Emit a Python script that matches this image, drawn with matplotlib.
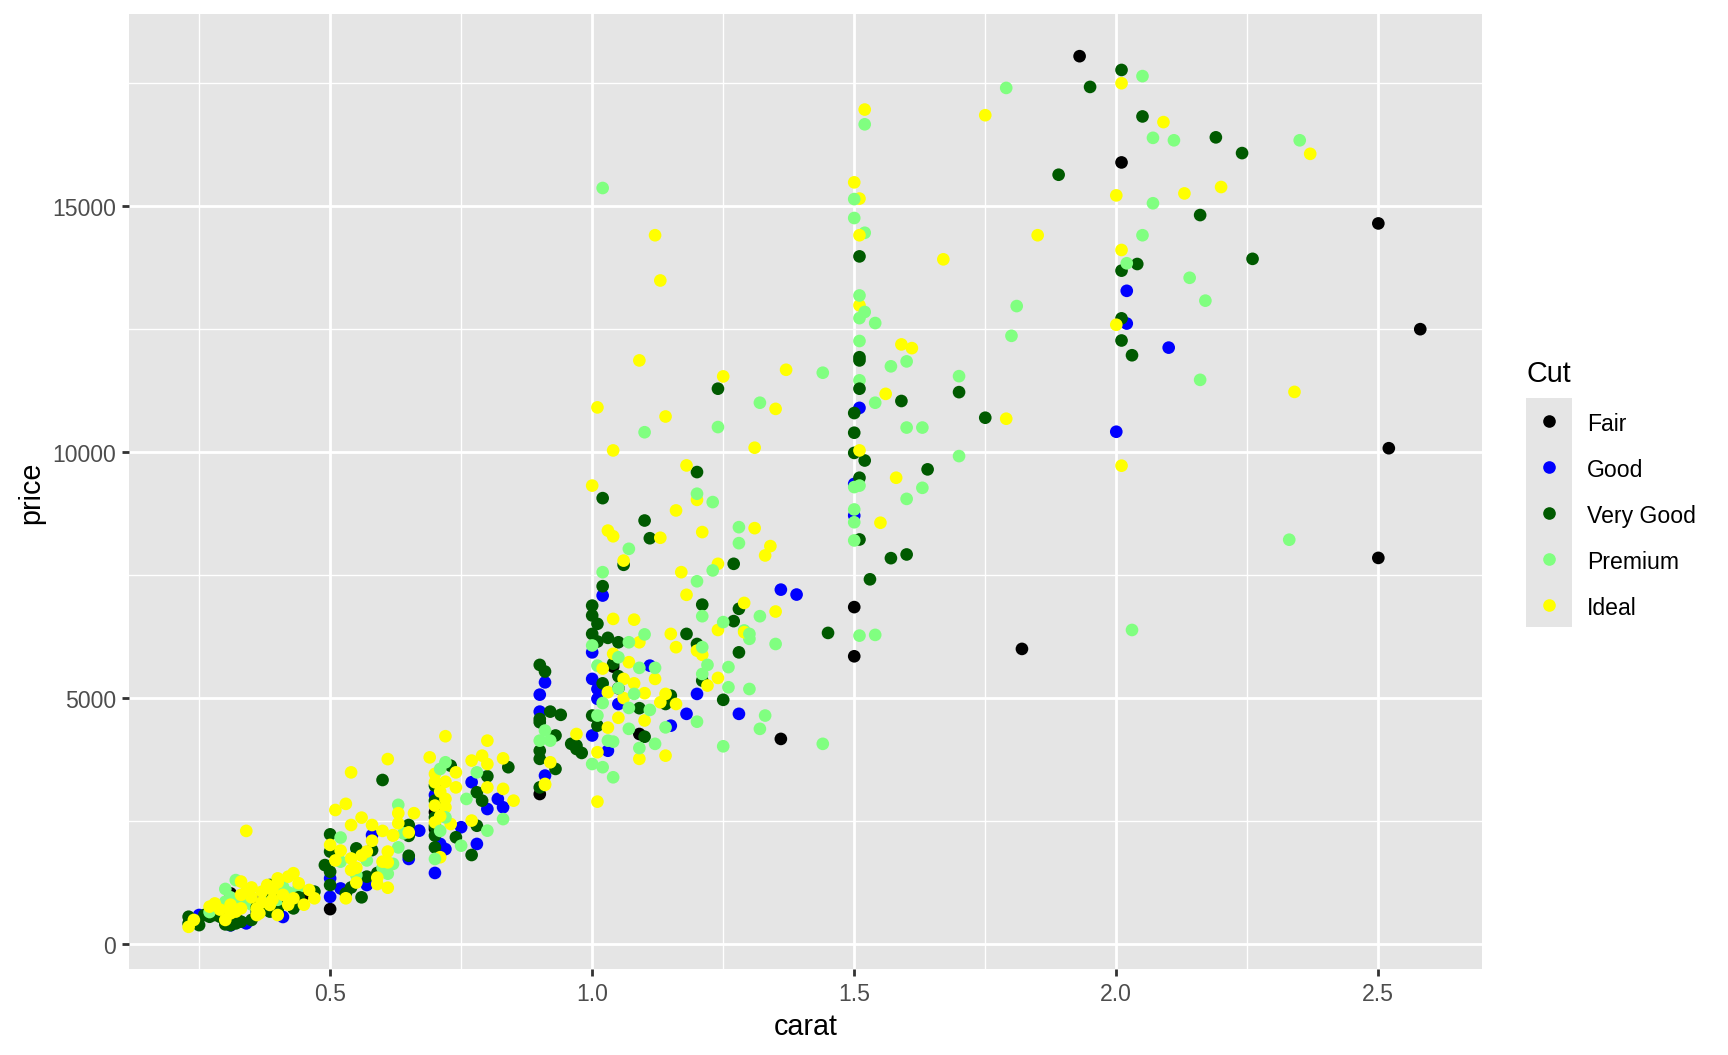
import numpy as np
import pandas as pd
import matplotlib
matplotlib.use("Agg")
import matplotlib.pyplot as plt
from matplotlib.lines import Line2D
from matplotlib.patches import Rectangle

plt.rcParams['font.family'] = ['Liberation Sans', 'DejaVu Sans']

# values (diamonds sample, carat vs price by cut)
cuts = ["Fair", "Good", "Very Good", "Premium", "Ideal"]
cut_colors = ["#000000", "#0000FF", "#005A00", "#80FF80", "#FFFF00"]

fair_carat = [1.93, 2.01, 2.50, 2.58, 2.52, 2.50, 1.82, 1.50, 1.50, 1.36, 1.04, 1.05, 1.09,
              0.90, 0.50, 0.31, 0.45, 0.70, 0.70]
fair_price = [18050, 15890, 14650, 12500, 10080, 7850, 6000, 6850, 5850, 4170, 5640, 5200, 4270,
              3050, 710, 1030, 1000, 2680, 2340]

good_carat = [2.02, 2.02, 2.10, 2.00, 1.51, 1.36, 1.39, 1.02, 1.28, 1.20, 1.18, 1.15, 1.11, 1.05,
              1.00, 1.00, 1.01, 1.01, 1.00, 1.03, 0.91, 0.90, 0.90, 0.91, 1.50, 1.50, 0.77, 0.82,
              0.80, 0.83, 0.78, 0.70, 0.75, 0.71, 0.72, 0.70, 0.67, 0.65, 0.58, 0.57, 0.50, 0.50,
              0.52, 0.37, 0.34, 0.25, 0.43, 0.41, 0.31]
good_price = [13280, 12615, 12125, 10415, 10900, 7205, 7105, 7085, 4680, 5085, 4680, 4440, 5660, 4880,
              5930, 5390, 5185, 4985, 4240, 3930, 5320, 5070, 4725, 3425, 9355, 8710, 3290, 2950,
              2745, 2780, 2035, 3030, 2375, 2035, 1930, 1445, 2305, 1730, 2215, 1200, 1335, 960,
              1130, 930, 420, 590, 975, 550, 380]

vgood_carat = [2.01, 1.95, 2.05, 2.19, 2.24, 1.89, 2.16, 2.04, 2.01, 2.26, 2.01, 2.01, 2.03, 1.75,
               1.70, 1.59, 1.64, 1.60, 1.57, 1.53, 1.51, 1.52, 1.51, 1.51, 1.51, 1.51, 1.50, 1.50,
               1.50, 1.51, 1.45,
               1.24, 1.02, 1.20, 1.10, 1.11, 1.06, 1.27, 1.02, 1.21, 1.28, 1.27, 1.18, 1.03, 1.05,
               1.20, 1.28, 1.21, 1.25, 1.00, 1.00, 1.01, 1.00, 1.02, 1.00, 1.01, 1.05, 1.09, 1.14,
               1.15, 1.10, 1.01, 1.04,
               0.90, 0.91, 0.92, 0.94, 0.90, 0.90, 0.93, 0.90, 0.90, 0.93, 0.90, 0.96, 0.97, 0.98,
               0.97, 0.84, 0.80, 0.78, 0.79, 0.78, 0.77, 0.73, 0.70, 0.70, 0.70, 0.74, 0.70, 0.70,
               0.71, 0.70,
               0.60, 0.65, 0.65, 0.59, 0.56, 0.65, 0.50, 0.55, 0.50, 0.58, 0.49, 0.50, 0.50, 0.53,
               0.57, 0.54, 0.385, 0.47, 0.41, 0.43, 0.38, 0.385, 0.28, 0.29, 0.31, 0.33, 0.35, 0.23,
               0.23, 0.25, 0.27, 0.26, 0.30, 0.32, 0.40, 0.42, 0.36, 0.36, 0.39, 0.44, 0.32]
vgood_price = [17770, 17425, 16825, 16400, 16080, 15640, 14820, 13825, 13690, 13930, 12720, 12270,
               11970, 10700, 11220, 11040, 9650, 7920, 7845, 7415, 8225, 9830, 13980, 11930, 11865,
               11290, 10795, 10395, 9985, 9480, 6325,
               11290, 9065, 9595, 8610, 8250, 7710, 7730, 7275, 6900, 6815, 6565, 6305, 6225, 6135,
               6100, 5930, 5355, 4965, 6880, 6680, 6510, 6305, 5300, 4645, 4440, 5445, 4795, 4880,
               5050, 4215, 6150, 5700,
               5675, 5540, 4725, 4660, 4575, 4510, 4240, 3930, 3765, 3560, 3185, 4070, 4035, 3885,
               3965, 3595, 3410, 3085, 2915, 2405, 1810, 3625, 3220, 2915, 2575, 2170, 2205, 1965,
               2800, 2400,
               3335, 2420, 1795, 1445, 950, 2200, 2230, 1945, 1880, 1910, 1605, 1470, 1200, 1030,
               1370, 1150, 1200, 1065, 860, 725, 795, 660, 590, 555, 385, 455, 490, 555,
               420, 385, 555, 590, 400, 530, 700, 900, 650, 750, 1000, 950, 420]

prem_carat = [2.05, 1.79, 1.52, 2.07, 2.11, 2.35, 1.02, 1.50, 1.50, 1.52, 2.05, 2.07, 2.02, 2.14,
              2.17, 1.81, 1.80, 1.51, 1.52, 1.51, 1.54, 1.51, 1.60, 1.57, 1.51, 1.70, 1.54, 1.60,
              1.63, 1.70, 1.51, 1.50, 1.63, 1.60, 1.50, 1.50, 1.50, 1.51, 1.54, 2.03, 2.33, 2.16,
              1.44, 1.44, 1.32, 1.24, 1.10, 1.20, 1.23, 1.28, 1.28, 1.07, 1.23, 1.20, 1.02, 1.32,
              1.21, 1.25, 1.29, 1.30, 1.35, 1.10, 1.07, 1.21, 1.22, 1.21, 1.26, 1.26, 1.30, 1.20,
              1.25, 1.33, 1.32, 1.00, 1.01, 1.01, 1.00, 1.02, 1.04, 1.03, 1.05, 1.09, 1.12, 1.11,
              1.08, 1.07, 1.12, 1.09, 1.14, 1.04, 1.30, 1.05, 1.07, 1.02,
              0.91, 0.90, 0.92, 0.72, 0.71, 0.72, 0.75, 0.70, 0.78, 0.76, 0.83, 0.80, 0.63, 0.64,
              0.63, 0.62, 0.61, 0.52, 0.52, 0.57, 0.71, 0.55, 0.60,
              0.41, 0.35, 0.32, 0.30, 0.30, 0.35, 0.38, 0.44, 0.27, 0.33, 0.40, 0.42, 0.31]
prem_price = [17645, 17405, 16665, 16390, 16340, 16340, 15370, 15145, 14760, 14460, 14410, 15060,
              13840, 13545, 13080, 12970, 12365, 13185, 12850, 12725, 12625, 12260, 11845, 11745,
              11460, 11545, 11005, 10500, 10500, 9920, 9320, 9290, 9275, 9050, 8835, 8575, 8205,
              6270, 6285, 6385, 8220, 11470, 4070, 11615, 11005, 10510, 10405, 9155, 8985, 8475,
              8150, 8035, 7595, 7375, 7560, 6665, 6665, 6545, 6375, 6205, 6100, 6295, 6135, 6035,
              5675, 5490, 5630, 5220, 5185, 4520, 4020, 4645, 4375, 6070, 5660, 4645, 3660, 3595,
              3390, 4135, 5830, 5615, 5615, 4760, 5085, 4375, 4070, 3985, 4405, 4115, 6305, 5200,
              4800, 4900,
              4340, 4135, 4135, 3695, 3560, 2575, 2000, 1730, 3490, 2950, 2540, 2305, 2830, 2250,
              1965, 1630, 1430, 2165, 1675, 1700, 2300, 1400, 1550,
              1165, 825, 1300, 1120, 860, 805, 1000, 1150, 650, 900, 900, 1050, 950]

ideal_carat = [2.01, 2.09, 2.37, 1.52, 1.75, 1.50, 1.51, 2.00, 2.13, 2.20, 1.85, 1.51, 2.01, 1.12,
               1.13, 1.67, 1.51, 2.00, 1.59, 1.61, 1.09, 1.25, 1.37, 2.34, 1.01, 1.35, 1.14, 1.79,
               1.31, 1.04, 2.01, 1.00, 1.58, 1.18, 1.20, 1.16, 1.03, 1.04, 1.13, 1.21, 1.31, 1.34,
               1.33, 1.55, 1.06, 1.24, 1.17, 1.18, 1.29, 1.35, 1.04, 1.08, 1.24, 1.15, 1.09, 1.16,
               1.20, 1.21, 1.22, 1.24, 1.29, 1.56, 1.51,
               1.07, 1.12, 1.06, 1.03, 1.10, 1.13, 1.16, 1.14, 1.14, 1.09, 1.01, 1.01, 0.97, 0.92,
               0.91, 1.02, 1.04, 1.06, 1.08, 1.10, 1.05, 1.03,
               0.72, 0.69, 0.70, 0.74, 0.70, 0.74, 0.72, 0.70, 0.72, 0.70, 0.73, 0.71, 0.77, 0.79,
               0.80, 0.83, 0.80, 0.80, 0.83, 0.85, 0.77, 0.91, 0.71, 0.72, 0.71,
               0.54, 0.61, 0.51, 0.53, 0.56, 0.54, 0.58, 0.63, 0.66, 0.63, 0.62, 0.65, 0.61, 0.60,
               0.61, 0.59, 0.59, 0.61, 0.62, 0.50, 0.57, 0.54, 0.54, 0.53, 0.55, 0.55, 0.56, 0.52,
               0.51, 0.58, 0.60,
               0.34, 0.40, 0.43, 0.42, 0.44, 0.46, 0.47, 0.43, 0.385, 0.40, 0.37, 0.36, 0.365, 0.33,
               0.28, 0.27, 0.33, 0.34, 0.32, 0.30, 0.31, 0.33, 0.36, 0.24, 0.23, 0.45, 0.39, 0.35,
               0.38, 0.40, 0.41, 0.39, 0.42, 0.37, 0.31, 0.29, 0.35]
ideal_price = [17500, 16710, 16065, 16965, 16850, 15485, 15155, 15220, 15260, 15390, 14410, 14410,
               14110, 14410, 13490, 13920, 12985, 12590, 12190, 12115, 11865, 11540, 11675, 11225,
               10910, 10880, 10725, 10680, 10090, 10035, 9725, 9320, 9480, 9730, 9030, 8815, 8405,
               8290, 8260, 8375, 8455, 8090, 7900, 8565, 7795, 7730, 7560, 7100, 6935, 6760, 6610,
               6595, 6385, 6305, 6135, 6035, 5965, 5880, 5255, 5410, 6340, 11185, 10035,
               5730, 5390, 5390, 5120, 4545, 4915, 4880, 5085, 3830, 3765, 2895, 3900, 4270, 3695,
               3255, 5600, 5900, 5000, 5300, 5100, 4600, 4400,
               4225, 3795, 3460, 3490, 3290, 3185, 2950, 2815, 2780, 2475, 2440, 1765, 3730, 3830,
               4135, 3775, 3660, 3185, 3155, 2915, 2510, 3235, 3100, 3300, 2600,
               3490, 3760, 2725, 2850, 2570, 2420, 2420, 2660, 2660, 2455, 2215, 2270, 1880, 1675,
               1145, 1350, 1220, 1660, 2205, 2015, 1880, 1740, 1505, 930, 1250, 1550, 1800, 1900,
               1700, 2100, 2300,
               2300, 1335, 1440, 1370, 1235, 1100, 930, 930, 795, 590, 1065, 725, 625, 1270,
               825, 760, 1000, 1065, 660, 490, 625, 725, 590, 490, 350, 800, 1100, 950,
               1200, 1250, 1000, 900, 800, 850, 800, 700, 1150]

carats = [fair_carat, good_carat, vgood_carat, prem_carat, ideal_carat]
prices = [fair_price, good_price, vgood_price, prem_price, ideal_price]

frames = []
for g, (cut, c, p) in enumerate(zip(cuts, carats, prices)):
    d = pd.DataFrame({"carat": c, "price": p, "cut": cut})
    d["order"] = np.arange(len(d)) * len(cuts) + g
    frames.append(d)
df = pd.concat(frames).sort_values("order")
color_map = dict(zip(cuts, cut_colors))

S = 1.306  # ggplot pt -> pt at this dpi
panel_bg = "#E5E5E5"
fig = plt.figure(figsize=(12, 7.3333), dpi=144)
ax = fig.add_axes([0.0747, 0.0816, 0.7830, 0.9038])
ax.set_facecolor(panel_bg)

ax.scatter(df["carat"], df["price"], c=df["cut"].map(color_map), s=40, linewidths=0, zorder=3)

ax.set_xlim(0.1164, 2.698)
ax.set_ylim(-504, 18899)
ax.set_xticks([0.5, 1.0, 1.5, 2.0, 2.5])
ax.set_xticklabels(["0.5", "1.0", "1.5", "2.0", "2.5"])
ax.set_yticks([0, 5000, 10000, 15000])
ax.set_xticks([0.25, 0.75, 1.25, 1.75, 2.25], minor=True)
ax.set_yticks([2500, 7500, 12500, 17500], minor=True)
ax.grid(which="major", color="white", linewidth=1.07 * S)
ax.grid(which="minor", color="white", linewidth=0.53 * S)
ax.set_axisbelow(True)
for sp in ax.spines.values():
    sp.set_visible(False)
ax.tick_params(which="major", length=2.75 * S, width=1.07 * S, color="#333333",
               labelsize=8.8 * S, labelcolor="#4D4D4D", pad=2.2 * S)
ax.tick_params(which="minor", length=0)
ax.set_xlabel("carat", fontsize=11 * S, labelpad=2.75 * S)
ax.set_ylabel("price", fontsize=11 * S, labelpad=2.75 * S)

# legend drawn ggplot-style
W, H = 1728, 1056
fig.text(1527 / W, 1 - 382 / H, "Cut", fontsize=11 * S, ha="left", va="baseline")
fig.patches.append(Rectangle((1526 / W, 1 - 628 / H), 46 / W, 229 / H,
                             transform=fig.transFigure, facecolor=panel_bg, edgecolor="none"))
key_y = [421.7, 468.3, 514.3, 560.3, 606.3]
for cut, col, ky in zip(cuts, cut_colors, key_y):
    fig.lines.append(Line2D([1549 / W], [1 - ky / H], marker="o", markersize=6.3,
                            markerfacecolor=col, markeredgewidth=0, linestyle="none",
                            transform=fig.transFigure))
    fig.text(1587 / W, 1 - ky / H, cut, fontsize=8.8 * S, ha="left", va="center_baseline")

fig.savefig("out.png", dpi=144)
